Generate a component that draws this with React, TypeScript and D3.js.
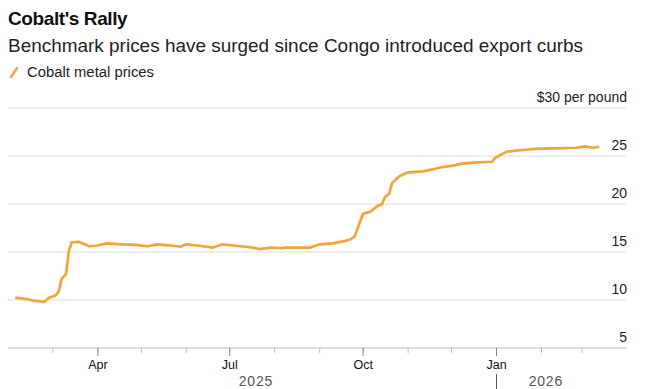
import { useEffect, useRef } from "react"
import * as d3 from "d3"

const dates = [
  "2025-02-03", "2025-02-11", "2025-02-15", "2025-02-23", "2025-02-26", "2025-03-03",
  "2025-03-05", "2025-03-07", "2025-03-10", "2025-03-12", "2025-03-14", "2025-03-19",
  "2025-03-22", "2025-03-26", "2025-03-31", "2025-04-07", "2025-04-18", "2025-04-27",
  "2025-05-05", "2025-05-12", "2025-05-20", "2025-05-28", "2025-06-01", "2025-06-10",
  "2025-06-19", "2025-06-26", "2025-07-08", "2025-07-15", "2025-07-22", "2025-07-29",
  "2025-08-05", "2025-08-09", "2025-08-18", "2025-08-25", "2025-09-01", "2025-09-10",
  "2025-09-17", "2025-09-22", "2025-09-25", "2025-10-01", "2025-10-06", "2025-10-11",
  "2025-10-14", "2025-10-16", "2025-10-19", "2025-10-21", "2025-10-26", "2025-10-31",
  "2025-11-11", "2025-11-18", "2025-11-23", "2025-12-02", "2025-12-08", "2025-12-16",
  "2025-12-29", "2025-12-31", "2026-01-08", "2026-01-17", "2026-01-28", "2026-02-10",
  "2026-02-25", "2026-03-03", "2026-03-09", "2026-03-13",
]
const prices = [
  10.25, 10.1, 9.95, 9.8, 10.2, 10.5,
  10.9, 12.2, 12.7, 15.1, 16.0, 16.05,
  15.85, 15.6, 15.65, 15.9, 15.8, 15.75,
  15.6, 15.8, 15.7, 15.55, 15.8, 15.65,
  15.45, 15.8, 15.6, 15.5, 15.3, 15.45,
  15.4, 15.45, 15.45, 15.45, 15.8, 15.9,
  16.1, 16.3, 16.6, 19.0, 19.2, 19.8,
  20.0, 20.7, 21.1, 22.2, 22.9, 23.26,
  23.4, 23.6, 23.8, 24.0, 24.2, 24.3,
  24.4, 24.8, 25.45, 25.6, 25.75, 25.8,
  25.86, 26.0, 25.86, 25.96,
]
const yTicks = [5, 10, 15, 20, 25]
const majorMonths = ["2025-04-01", "2025-07-01", "2025-10-01", "2026-01-01"]
const monthLabels = ["Apr", "Jul", "Oct", "Jan"]
const years = [
  { label: "2025", mid: "2025-07-19" },
  { label: "2026", mid: "2026-02-04" },
]

const parse = d3.utcParse("%Y-%m-%d")

export default function App() {
  const svgRef = useRef<SVGSVGElement>(null)

  useEffect(() => {
    if (!svgRef.current) return
    const svg = d3.select(svgRef.current)
    svg.selectAll("*").remove()

    const width = 645
    const height = 389
    const left = 8
    const right = 627
    const top = 108
    const bottom = 348
    const font = "Liberation Sans, Arial, sans-serif"

    const data = dates.map((d, i) => ({ date: parse(d) as Date, value: prices[i] }))

    const x = d3
      .scaleUtc()
      .domain([parse("2025-01-29") as Date, parse("2026-04-01") as Date])
      .range([left, right])
    const y = d3.scaleLinear().domain([5, 30]).range([bottom, top])

    svg.append("rect").attr("width", width).attr("height", height).attr("fill", "#fff")

    // Title block
    svg
      .append("text")
      .attr("x", 8)
      .attr("y", 25)
      .attr("font-family", font)
      .attr("font-size", 19)
      .attr("font-weight", "bold")
      .attr("fill", "#111")
      .attr("letter-spacing", -0.4)
      .text("Cobalt's Rally")

    svg
      .append("text")
      .attr("x", 8)
      .attr("y", 52)
      .attr("font-family", font)
      .attr("font-size", 17.5)
      .attr("fill", "#222")
      .attr("textLength", 575)
      .attr("lengthAdjust", "spacingAndGlyphs")
      .text("Benchmark prices have surged since Congo introduced export curbs")

    // Legend
    svg
      .append("line")
      .attr("x1", 11)
      .attr("y1", 77)
      .attr("x2", 17)
      .attr("y2", 68)
      .attr("stroke", "#f0a43a")
      .attr("stroke-width", 2.5)
      .attr("stroke-linecap", "round")
    svg
      .append("text")
      .attr("x", 27)
      .attr("y", 77)
      .attr("font-family", font)
      .attr("font-size", 14)
      .attr("fill", "#222")
      .attr("textLength", 127)
      .attr("lengthAdjust", "spacingAndGlyphs")
      .text("Cobalt metal prices")

    // Grid lines
    svg
      .append("g")
      .selectAll("line")
      .data([...yTicks.slice(1), 30])
      .join("line")
      .attr("x1", left)
      .attr("x2", right)
      .attr("y1", (d) => y(d))
      .attr("y2", (d) => y(d))
      .attr("stroke", "#dcdcdc")
      .attr("stroke-width", 1)

    svg
      .append("line")
      .attr("x1", left)
      .attr("x2", right)
      .attr("y1", y(5))
      .attr("y2", y(5))
      .attr("stroke", "#bdbdbd")
      .attr("stroke-width", 1)

    // Y labels
    svg
      .append("g")
      .selectAll("text")
      .data(yTicks)
      .join("text")
      .attr("x", right)
      .attr("y", (d) => y(d) - 6)
      .attr("text-anchor", "end")
      .attr("font-family", font)
      .attr("font-size", 14)
      .attr("fill", "#222")
      .text((d) => d)

    svg
      .append("text")
      .attr("x", right)
      .attr("y", y(30) - 6)
      .attr("text-anchor", "end")
      .attr("font-family", font)
      .attr("font-size", 14)
      .attr("fill", "#222")
      .text("$30 per pound")

    // X ticks
    const months = d3.utcMonth.range(parse("2025-03-01") as Date, parse("2026-04-01") as Date)
    svg
      .append("g")
      .selectAll("line")
      .data(months)
      .join("line")
      .attr("x1", (d) => x(d))
      .attr("x2", (d) => x(d))
      .attr("y1", bottom)
      .attr("y2", bottom + 5)
      .attr("stroke", "#bdbdbd")

    const majors = majorMonths.map((d) => parse(d) as Date)
    svg
      .append("g")
      .selectAll("line")
      .data(majors)
      .join("line")
      .attr("x1", (d) => x(d))
      .attr("x2", (d) => x(d))
      .attr("y1", bottom)
      .attr("y2", bottom + 8)
      .attr("stroke", "#888")

    svg
      .append("g")
      .selectAll("text")
      .data(majors)
      .join("text")
      .attr("x", (d) => x(d))
      .attr("y", 369)
      .attr("text-anchor", "middle")
      .attr("font-family", font)
      .attr("font-size", 12.5)
      .attr("fill", "#111")
      .text((_, i) => monthLabels[i])

    svg
      .append("g")
      .selectAll("text")
      .data(years)
      .join("text")
      .attr("x", (d) => x(parse(d.mid) as Date))
      .attr("y", 386)
      .attr("text-anchor", "middle")
      .attr("font-family", font)
      .attr("font-size", 14)
      .attr("letter-spacing", 0.8)
      .attr("fill", "#555")
      .text((d) => d.label)

    const jan = x(parse("2026-01-01") as Date)
    svg
      .append("line")
      .attr("x1", jan)
      .attr("x2", jan)
      .attr("y1", 374)
      .attr("y2", 389)
      .attr("stroke", "#555")
      .attr("stroke-width", 1)

    // Price line
    const line = d3
      .line<{ date: Date; value: number }>()
      .x((d) => x(d.date))
      .y((d) => y(d.value))

    svg
      .append("path")
      .datum(data)
      .attr("d", line)
      .attr("fill", "none")
      .attr("stroke", "#f0a43a")
      .attr("stroke-width", 2.7)
      .attr("stroke-linejoin", "round")
  }, [])

  return (
    <svg
      ref={svgRef}
      width={645}
      height={389}
      style={{ position: "absolute", left: 0, top: 0, display: "block" }}
    />
  )
}
